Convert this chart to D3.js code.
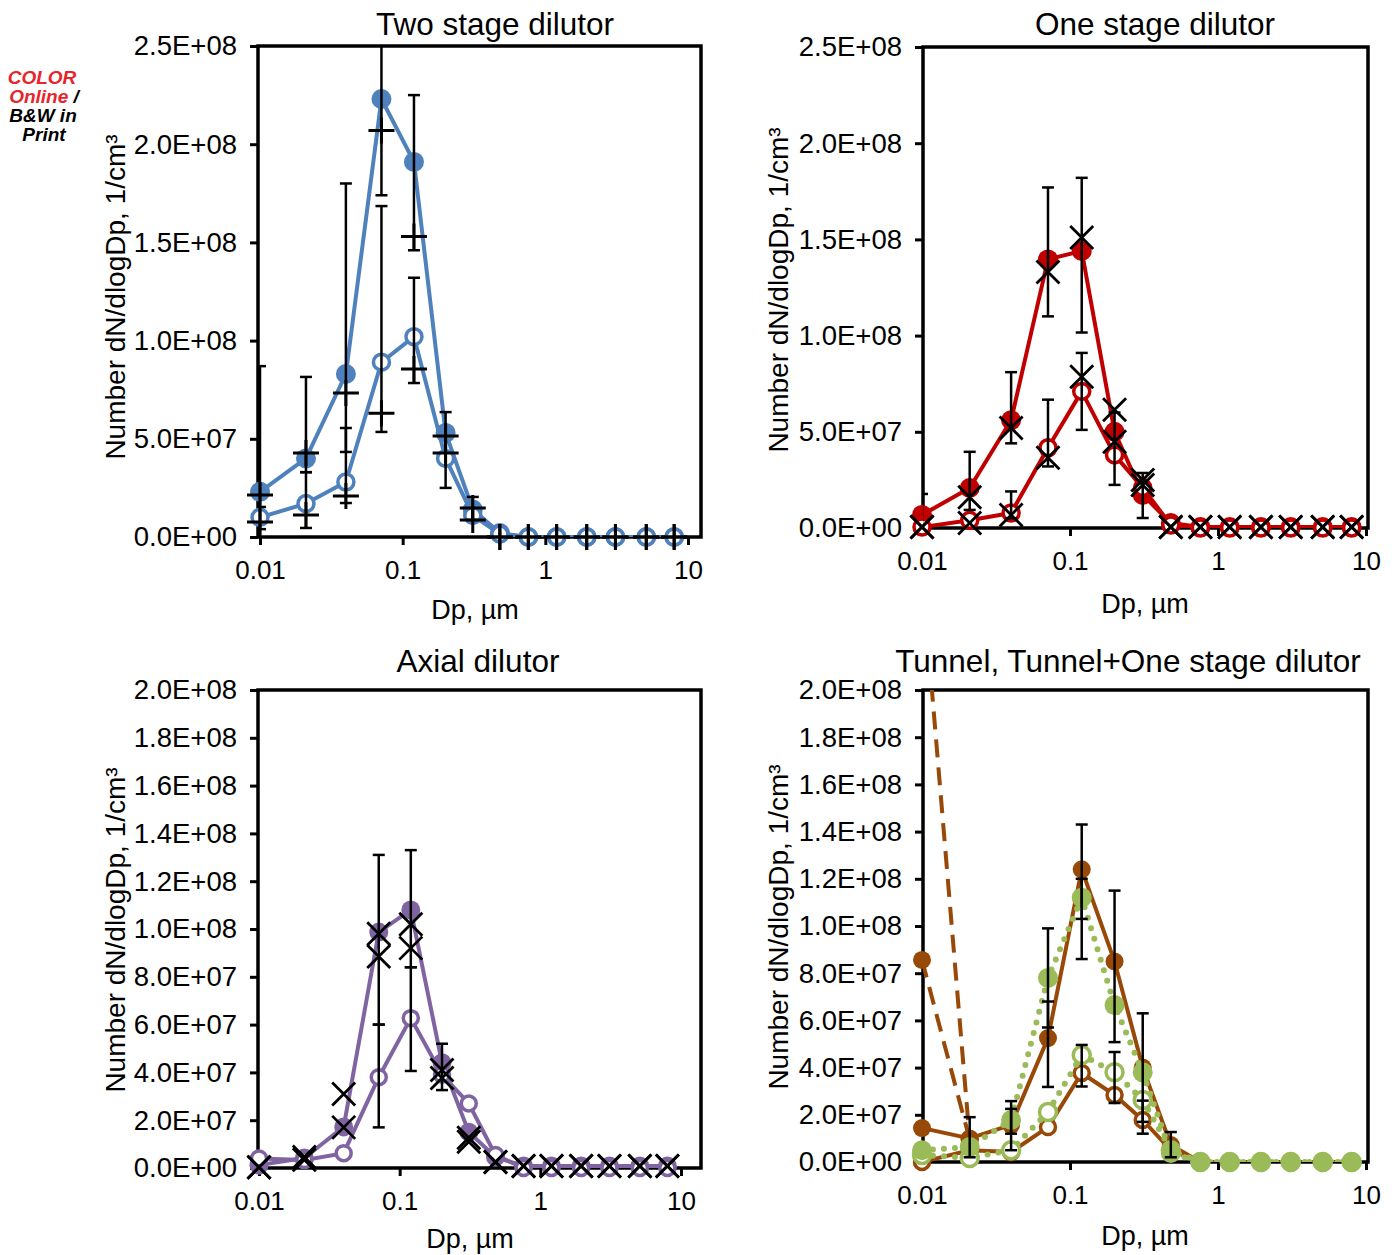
<!DOCTYPE html>
<html>
<head>
<meta charset="utf-8">
<script src="https://cdn.jsdelivr.net/npm/d3@7"></script>
<style>
  body { margin: 0; background: #fff; }
  text { font-family: "Liberation Sans", Arial, Helvetica, sans-serif; fill: #000; }
</style>
</head>
<body>
<script>
// particle diameters (µm), same channels in all four panels
const dp = [0.01, 0.021, 0.04, 0.071, 0.12, 0.2, 0.31, 0.48, 0.76, 1.2, 1.95, 3.1, 5.1, 8.0];
const xTicks = [0.01, 0.1, 1, 10];

// Two stage dilutor
const twoFilled = [2.3e7, 4.0e7, 8.3e7, 2.23e8, 1.91e8, 5.3e7, 1.4e7, 2e6, 0, 0, 0, 0, 0, 0];
const twoOpen   = [1.0e7, 1.7e7, 2.8e7, 8.9e7, 1.02e8, 4.0e7, 1.1e7, 1.5e6, 0, 0, 0, 0, 0, 0];
const twoPlusA  = [2.14e7, 4.28e7, 7.33e7, 2.07e8, 1.53e8, 5.14e7, 1.48e7, 0, 0, 0, 0, 0, 0, 0];
const twoPlusB  = [7.6e6, 1.12e7, 2.09e7, 6.3e7, 8.55e7, 4.28e7, 8.7e6, 0, 0, 0, 0, 0, 0, 0];
const twoErr = [
  [0.01, -1e7, 8.7e7], [0.01, 4e6, 1.53e7],
  [0.021, 3.3e7, 8.15e7], [0.021, 4.6e6, 3.3e7],
  [0.04, 4.33e7, 1.8e8], [0.04, 1.73e7, 5.55e7],
  [0.071, 1.74e8, 2.9e8], [0.071, 5.35e7, 1.685e8],
  [0.12, 1.46e8, 2.25e8], [0.12, 7.84e7, 1.32e8],
  [0.2, 2.5e7, 6.36e7], [0.31, 8.7e6, 2.04e7]
];

// One stage dilutor
const oneFilled = [6.8e6, 2.08e7, 5.6e7, 1.396e8, 1.44e8, 5.0e7, 1.72e7, 2.6e6, 5e5, 5e5, 5e5, 5e5, 5e5, 5e5];
const oneOpen   = [5e5, 4e6, 7.8e6, 4.17e7, 7.1e7, 3.8e7, 2.1e7, 1.5e6, 0, 0, 0, 0, 0, 0];
const oneCrossA = [5e5, 1.6e7, 5.2e7, 1.33e8, 1.51e8, 6.15e7, 2.5e7, 5e5, 5e5, 5e5, 5e5, 5e5, 5e5, 5e5];
const oneCrossB = [5e5, 2.6e6, 6.8e6, 3.65e7, 7.86e7, 4.48e7, 2.24e7, 5e5, 5e5, 5e5, 5e5, 5e5, 5e5, 5e5];
const oneErr = [
  [0.01, -1e7, 1.77e7], [0.021, 9.4e6, 3.96e7],
  [0.04, 4.4e7, 8.1e7], [0.04, 5e6, 1.9e7],
  [0.071, 1.1e8, 1.77e8], [0.071, 3.2e7, 6.67e7],
  [0.12, 1.016e8, 1.82e8], [0.12, 5.1e7, 9.1e7],
  [0.2, 2.24e7, 6.0e7], [0.31, 5.2e6, 2.86e7]
];

// Axial dilutor
const axFilled = [1.2e6, 4.2e6, 1.72e7, 9.87e7, 1.08e8, 4.4e7, 1.5e7, 4.6e6, 8e5, 8e5, 8e5, 8e5, 8e5, 8e5];
const axOpen   = [4e6, 3.3e6, 6.2e6, 3.8e7, 6.27e7, 3.9e7, 2.7e7, 5.4e6, 0, 0, 0, 0, 0, 0];
const axCrossA = [3e5, 4.6e6, 3.1e7, 9.8e7, 1.02e8, 4.1e7, 1.27e7, 2.5e6, 8e5, 8e5, 8e5, 8e5, 8e5, 8e5];
const axCrossB = [3e5, 3.4e6, 1.7e7, 8.85e7, 9.2e7, 3.77e7, 1.1e7, 2.5e6, 8e5, 8e5, 8e5, 8e5, 8e5, 8e5];
const axErr = [
  [0.071, 6.0e7, 1.31e8], [0.071, 1.7e7, 6.0e7],
  [0.12, 8.4e7, 1.33e8], [0.12, 4.06e7, 8.4e7],
  [0.2, 3.26e7, 5.2e7]
];

// Tunnel, Tunnel+One stage dilutor
const tunDashA  = [2.5e8, 9.5e6, null, null, null, null, null, null, null, null, null, null, null, null];
const tunDashB  = [8.56e7, 9.5e6, null, null, null, null, null, null, null, null, null, null, null, null];
const tunFilled = [1.44e7, 1.0e7, 1.57e7, 5.25e7, 1.24e8, 8.5e7, 4.0e7, 7.2e6, 0, 0, 0, 0, 0, 0];
const tunOpen   = [0, 5e6, 4.2e6, 1.48e7, 3.77e7, 2.84e7, 1.78e7, 5e6, 0, 0, 0, 0, 0, 0];
const grnFilled = [5e6, 6.4e6, 1.78e7, 7.8e7, 1.12e8, 6.65e7, 3.8e7, 3.8e6, 0, 0, 0, 0, 0, 0];
const grnOpen   = [3e6, 1.7e6, 5e6, 2.12e7, 4.53e7, 3.8e7, 2.63e7, 5e6, 0, 0, 0, 0, 0, 0];
const tunErr = [
  [0.021, 2e6, 1.9e7], [0.04, 1.2e7, 2.58e7], [0.04, 5e6, 2.25e7],
  [0.071, 5.7e7, 9.9e7], [0.071, 3.18e7, 6.8e7],
  [0.12, 1.03e8, 1.43e8], [0.12, 8.6e7, 1.2e8], [0.12, 3.2e7, 4.96e7],
  [0.2, 5.08e7, 1.15e8], [0.2, 2.5e7, 4.66e7],
  [0.31, 1.7e7, 6.3e7], [0.31, 1.2e7, 2.6e7], [0.48, 2e6, 1.27e7]
];

const blue = '#4F81BD', red = '#C00000', purple = '#8064A2', brown = '#984807', green = '#9BBB59';

const panels = [
  { title: 'Two stage dilutor', titlePos: [495, 35],
    box: {l: 258, r: 701, t: 46, b: 537}, xr: [260, 688], yMax: 2.5e8, yStep: 5e7,
    yLabelPos: [125, 297], xLabelPos: [475, 619],
    series: [
      {v: twoFilled, color: blue, type: 'filled', r: 10},
      {v: twoOpen, color: blue, type: 'open', r: 8}
    ],
    err: twoErr,
    marks: [{v: twoPlusA, type: 'plus'}, {v: twoPlusB, type: 'plus'}] },
  { title: 'One stage dilutor', titlePos: [1155, 35],
    box: {l: 923, r: 1368, t: 47, b: 528}, xr: [922, 1366], yMax: 2.5e8, yStep: 5e7,
    yLabelPos: [788, 290], xLabelPos: [1145, 613],
    series: [
      {v: oneFilled, color: red, type: 'filled', r: 10},
      {v: oneOpen, color: red, type: 'open', r: 8}
    ],
    err: oneErr,
    marks: [{v: oneCrossA, type: 'cross'}, {v: oneCrossB, type: 'cross'}] },
  { title: 'Axial dilutor', titlePos: [478, 672],
    box: {l: 258, r: 701, t: 690, b: 1168}, xr: [259, 681], yMax: 2e8, yStep: 2e7,
    yLabelPos: [125, 930], xLabelPos: [470, 1248],
    series: [
      {v: axFilled, color: purple, type: 'filled', r: 9.5},
      {v: axOpen, color: purple, type: 'open', r: 7.5}
    ],
    err: axErr,
    marks: [{v: axCrossA, type: 'cross'}, {v: axCrossB, type: 'cross'}] },
  { title: 'Tunnel, Tunnel+One stage dilutor', titlePos: [1128, 672],
    box: {l: 923, r: 1368, t: 690, b: 1162}, xr: [922, 1366], yMax: 2e8, yStep: 2e7,
    yLabelPos: [788, 927], xLabelPos: [1145, 1245],
    series: [
      {v: tunDashA, color: brown, type: 'filled', r: 9, dash: '18,10'},
      {v: tunDashB, color: brown, type: 'filled', r: 9, dash: '18,10'},
      {v: tunFilled, color: brown, type: 'filled', r: 9},
      {v: tunOpen, color: brown, type: 'open', r: 7.5},
      {v: grnOpen, color: green, type: 'open', r: 8.5, dotted: true},
      {v: grnFilled, color: green, type: 'filled', r: 10, dotted: true}
    ],
    err: tunErr,
    marks: [] }
];

const svg = d3.select('body').append('svg')
    .attr('width', 1394)
    .attr('height', 1255);

const sciFormat = v => {
  if (v === 0) return '0.0E+00';
  const e = Math.floor(Math.log10(v) + 1e-9);
  const m = v / Math.pow(10, e);
  return `${m.toFixed(1)}E+${String(e).padStart(2, '0')}`;
};

panels.forEach((p, i) => {
  const x = d3.scaleLog().domain([0.01, 10]).range(p.xr);
  const y = d3.scaleLinear().domain([0, p.yMax]).range([p.box.b, p.box.t]);
  const g = svg.append('g');

  const clipId = `clip${i}`;
  svg.append('clipPath').attr('id', clipId)
    .append('rect')
      .attr('x', p.box.l).attr('y', p.box.t)
      .attr('width', p.box.r - p.box.l).attr('height', p.box.b - p.box.t);

  // axes
  const yAxis = d3.axisLeft(y)
      .tickValues(d3.range(0, p.yMax + 1, p.yStep))
      .tickFormat(sciFormat)
      .tickSize(8)
      .tickPadding(13);
  const gy = g.append('g')
      .attr('transform', `translate(${p.box.l},0)`)
      .call(yAxis);

  const xAxis = d3.axisBottom(x)
      .tickValues(xTicks)
      .tickFormat(d => String(d))
      .tickSize(8)
      .tickPadding(16);
  const gx = g.append('g')
      .attr('transform', `translate(0,${p.box.b})`)
      .call(xAxis);

  [gx, gy].forEach(a => {
    a.select('.domain').remove();
    a.selectAll('line').attr('stroke', '#000').attr('stroke-width', 3);
    a.selectAll('text').attr('fill', '#000');
  });
  gy.selectAll('text').style('font-size', '27.5px');
  gx.selectAll('text').style('font-size', '26px');

  g.append('rect')
      .attr('x', p.box.l).attr('y', p.box.t)
      .attr('width', p.box.r - p.box.l).attr('height', p.box.b - p.box.t)
      .attr('fill', 'none').attr('stroke', '#000').attr('stroke-width', 3.5);

  // titles & labels
  g.append('text')
      .attr('x', p.titlePos[0]).attr('y', p.titlePos[1])
      .attr('text-anchor', 'middle')
      .style('font-size', '31.5px')
      .text(p.title);

  g.append('text')
      .attr('transform', `translate(${p.yLabelPos[0]},${p.yLabelPos[1]}) rotate(-90)`)
      .attr('text-anchor', 'middle')
      .style('font-size', '28px')
      .text('Number dN/dlogDp, 1/cm³');

  g.append('text')
      .attr('x', p.xLabelPos[0]).attr('y', p.xLabelPos[1])
      .attr('text-anchor', 'middle')
      .style('font-size', '27px')
      .text('Dp, µm');

  const line = d3.line()
      .defined(d => d[1] != null)
      .x(d => x(d[0]))
      .y(d => y(d[1]));

  const plot = g.append('g');

  p.series.forEach(s => {
    const pts = dp.map((d, k) => [d, s.v[k]]);
    const path = plot.append('path')
        .datum(pts)
        .attr('clip-path', `url(#${clipId})`)
        .attr('fill', 'none')
        .attr('stroke', s.color)
        .attr('d', line);
    if (s.dotted) {
      path.attr('stroke-width', 6)
          .attr('stroke-linecap', 'round')
          .attr('stroke-dasharray', '0,11');
    } else {
      path.attr('stroke-width', 4)
          .attr('stroke-linejoin', 'round');
      if (s.dash) path.attr('stroke-dasharray', s.dash);
    }

    const vis = pts.filter(d => d[1] != null && d[1] <= p.yMax);
    plot.selectAll(null)
        .data(vis)
      .enter().append('circle')
        .attr('cx', d => x(d[0]))
        .attr('cy', d => y(d[1]))
        .attr('r', s.r)
        .attr('fill', s.type === 'open' ? '#fff' : s.color)
        .attr('stroke', s.type === 'open' ? s.color : 'none')
        .attr('stroke-width', 3.5);
  });

  // error bars
  const eg = g.append('g')
      .attr('clip-path', `url(#${clipId})`)
      .attr('stroke', '#000')
      .attr('stroke-width', 2.5);
  p.err.forEach(([dx, lo, hi]) => {
    const cx = x(dx);
    eg.append('line')
        .attr('x1', cx).attr('x2', cx)
        .attr('y1', y(lo)).attr('y2', y(hi));
    [lo, hi].forEach(v => {
      eg.append('line')
          .attr('x1', cx - 6).attr('x2', cx + 6)
          .attr('y1', y(v)).attr('y2', y(v));
    });
  });

  // black point markers (x / +)
  p.marks.forEach(m => {
    const pts = dp.map((d, k) => [d, m.v[k]]);
    const mg = g.append('g').attr('stroke', '#000');
    pts.forEach(([dx, v]) => {
      const cx = x(dx), cy = y(v);
      if (m.type === 'plus') {
        const h = 13;
        mg.append('path')
            .attr('stroke-width', 3)
            .attr('d', `M${cx - h},${cy}H${cx + h}M${cx},${cy - h}V${cy + h}`);
      } else {
        const h = 11.5;
        mg.append('path')
            .attr('stroke-width', 2.8)
            .attr('d', `M${cx - h},${cy - h}L${cx + h},${cy + h}M${cx - h},${cy + h}L${cx + h},${cy - h}`);
      }
    });
  });
});

// print note
const note = svg.append('g')
    .style('font-size', '19px')
    .style('font-weight', 'bold')
    .style('font-style', 'italic');
note.append('text').attr('x', 42).attr('y', 84).attr('text-anchor', 'middle')
    .style('fill', '#E8242B').text('COLOR');
const l2 = note.append('text').attr('x', 44).attr('y', 103).attr('text-anchor', 'middle');
l2.append('tspan').style('fill', '#E8242B').text('Online');
l2.append('tspan').style('fill', '#000').text(' /');
note.append('text').attr('x', 43).attr('y', 122).attr('text-anchor', 'middle').text('B&W in');
note.append('text').attr('x', 44).attr('y', 141).attr('text-anchor', 'middle').text('Print');
</script>
</body>
</html>
